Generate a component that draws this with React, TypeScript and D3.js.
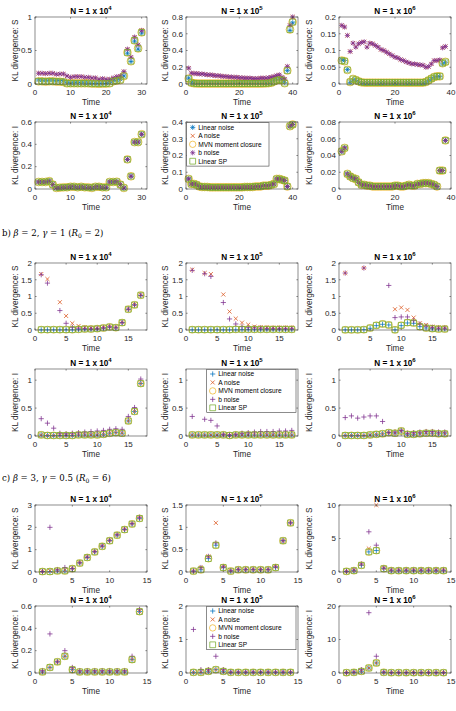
import React from "react";
import * as d3 from "d3";

// ---------- series styling ----------
const BLUE = "#0072BD";
const ORANGE = "#D95319";
const YELLOW = "#EDB120";
const PURPLE = "#7E2F8E";
const GREEN = "#77AC30";

const seriesLabels = ["Linear noise", "A noise", "MVN moment closure", "b noise", "Linear SP"];

// ---------- a) KL divergence values ----------
const aS4_linear = [0.06,0.06,0.055,0.06,0.06,0.05,0.05,0.05,0.02,0.015,0.02,0.02,0.02,0.015,0.015,0.01,0.01,0.005,0.01,0.01,0.02,0.05,0.06,0.07,0.12,0.46,0.335,0.64,0.52,0.76];
const aS4_mvn = [0.04,0.04,0.035,0.04,0.04,0.035,0.035,0.03,0.01,0.01,0.01,0.01,0.01,0.01,0.01,0.005,0.005,0.003,0.005,0.005,0.01,0.04,0.05,0.06,0.12,0.47,0.34,0.65,0.53,0.77];
const aS4_b = [0.16,0.16,0.155,0.16,0.16,0.145,0.15,0.15,0.12,0.1,0.11,0.11,0.11,0.1,0.1,0.09,0.09,0.07,0.08,0.07,0.07,0.09,0.11,0.12,0.185,0.52,0.4,0.7,0.585,0.8];

const aS5_linear = [0.07,0.02,0.012,0.01,0.01,0.01,0.01,0.01,0.01,0.01,0.01,0.01,0.01,0.01,0.01,0.01,0.01,0.01,0.01,0.01,0.01,0.01,0.01,0.01,0.01,0.01,0.01,0.01,0.01,0.012,0.015,0.02,0.04,0.05,0.055,0.05,0.02,0.16,0.64,0.73];
const aS5_mvn = [0.065,0.015,0.008,0.006,0.005,0.005,0.005,0.005,0.005,0.005,0.005,0.005,0.005,0.005,0.005,0.005,0.005,0.005,0.005,0.005,0.005,0.005,0.005,0.005,0.005,0.005,0.005,0.005,0.006,0.008,0.01,0.015,0.03,0.045,0.05,0.045,0.01,0.16,0.65,0.74];
const aS5_b = [0.19,0.13,0.125,0.125,0.12,0.12,0.115,0.11,0.11,0.105,0.1,0.1,0.095,0.09,0.09,0.085,0.085,0.08,0.08,0.075,0.075,0.07,0.07,0.07,0.065,0.065,0.065,0.07,0.07,0.07,0.075,0.08,0.09,0.1,0.11,0.08,0.06,0.21,0.7,0.8];

const aS6_linear = [0.072,0.07,0.043,0.005,0.012,0.01,0.007,0.004,0.003,0.003,0.003,0.003,0.003,0.003,0.003,0.003,0.003,0.003,0.003,0.003,0.003,0.003,0.003,0.003,0.003,0.003,0.003,0.003,0.003,0.003,0.005,0.01,0.015,0.02,0.022,0.022,0.06,0.065];
const aS6_mvn = [0.07,0.068,0.042,0.006,0.015,0.012,0.008,0.005,0.004,0.004,0.004,0.004,0.004,0.004,0.004,0.004,0.004,0.004,0.004,0.004,0.004,0.004,0.004,0.004,0.004,0.004,0.004,0.004,0.004,0.004,0.006,0.011,0.016,0.021,0.023,0.023,0.062,0.066];
const aS6_b = [0.175,0.17,0.145,0.097,0.122,0.11,0.12,0.124,0.126,0.11,0.122,0.12,0.115,0.11,0.103,0.1,0.095,0.09,0.085,0.08,0.078,0.073,0.07,0.066,0.063,0.06,0.06,0.058,0.057,0.056,0.05,0.052,0.06,0.07,0.07,0.072,0.108,0.112];

const aI4_all = [0.063,0.063,0.063,0.07,0.04,0.01,0.012,0.015,0.015,0.02,0.02,0.015,0.02,0.015,0.015,0.01,0.02,0.02,0.015,0.015,0.063,0.063,0.065,0.04,0.01,0.265,0.114,0.42,0.42,0.49];
const aI5_all = [0.06,0.03,0.03,0.025,0.015,0.012,0.012,0.012,0.01,0.01,0.01,0.01,0.01,0.01,0.01,0.01,0.01,0.01,0.01,0.01,0.01,0.012,0.012,0.012,0.012,0.015,0.015,0.015,0.02,0.02,0.02,0.025,0.03,0.06,0.06,0.055,0.05,0.015,0.375,0.385];
const aI6_all = [0.045,0.049,0.018,0.015,0.013,0.012,0.008,0.005,0.005,0.004,0.004,0.003,0.003,0.003,0.003,0.003,0.003,0.003,0.003,0.004,0.004,0.003,0.003,0.004,0.005,0.004,0.004,0.006,0.006,0.007,0.007,0.007,0.006,0.005,0.003,0.022,0.022,0.058];

// ---------- b) KL divergence values (null = off scale) ----------
const bS4_linear = [0.005,0.005,0.005,0.005,0.005,0.005,0.01,0.02,0.02,0.03,0.05,0.08,0.06,0.22,0.62,0.75,1.03];
const bS4_mvn = [0.01,0.01,0.01,0.01,0.01,0.01,0.02,0.03,0.03,0.04,0.06,0.09,0.07,0.22,0.62,0.75,1.04];
const bS4_A = [1.67,1.52,null,0.83,0.42,0.2,0.12,0.08,0.06,0.06,0.08,0.1,0.08,0.23,0.63,0.76,1.05];
const bS4_b = [1.65,1.4,null,0.58,0.2,0.08,0.05,0.05,0.05,0.05,0.07,0.1,0.08,0.22,0.62,0.75,1.04];

const bS5_linear = [0.005,0.005,0.005,0.005,0.005,0.005,0.005,0.005,0.01,0.01,0.01,0.01,0.01,0.01,0.01,0.01,0.01];
const bS5_mvn = [0.01,0.01,0.01,0.01,0.01,0.01,0.01,0.02,0.02,0.02,0.02,0.02,0.02,0.02,0.02,0.02,0.02];
const bS5_A = [1.8,null,1.7,1.67,null,1.06,0.55,0.34,0.22,0.16,0.1,0.08,0.08,0.07,0.07,0.07,0.07];
const bS5_b = [1.78,null,1.68,1.6,null,0.82,0.33,0.18,0.1,0.07,0.06,0.06,0.05,0.05,0.05,0.05,0.05];

const bS6_linear = [0.005,0.005,0.005,0.01,0.05,0.13,0.17,0.15,0.005,0.13,0.21,0.2,0.1,0.06,0.04,0.03,0.03];
const bS6_mvn = [0.005,0.005,0.005,0.01,0.06,0.14,0.18,0.15,0.005,0.14,0.22,0.21,0.1,0.06,0.04,0.03,0.03];
const bS6_A = [1.7,null,null,1.85,null,null,null,null,0.62,0.67,0.6,0.37,0.2,0.15,0.1,0.07,0.07];
const bS6_b = [1.7,null,null,1.85,null,null,null,1.33,0.37,0.39,0.39,0.28,0.18,0.12,0.08,0.06,0.06];

const bI4_rest = [0.02,0.01,0.01,0.01,0.01,0.01,0.02,0.02,0.02,0.02,0.03,0.05,0.06,0.05,0.27,0.44,0.94];
const bI4_b = [0.31,0.23,0.14,0.05,0.04,0.05,0.06,0.07,0.08,0.09,0.1,0.12,0.13,0.12,0.35,0.51,1.02];
const bI5_rest = [0.02,0.02,0.02,0.02,0.02,0.02,0.01,0.02,0.02,0.02,0.02,0.02,0.02,0.02,0.02,0.02,0.02];
const bI5_b = [0.35,null,0.3,0.28,0.18,0.03,0.02,0.03,0.05,0.06,0.07,0.08,0.08,0.08,0.09,0.09,0.1];
const bI6_rest = [0.01,0.01,0.01,0.01,0.02,0.03,0.04,0.06,0.05,0.09,0.03,0.03,0.04,0.05,0.05,0.04,0.04];
const bI6_b = [0.33,0.36,0.32,0.34,0.36,0.36,0.26,0.06,0.07,0.1,0.05,0.06,0.07,0.08,0.08,0.07,0.07];

// ---------- c) KL divergence values ----------
const cS4_linear = [0.02,0.02,0.05,0.05,0.15,0.4,0.65,0.9,1.15,1.4,1.65,1.9,2.15,2.4];
const cS4_A = [0.03,0.05,0.08,0.08,0.17,0.42,0.67,0.92,1.17,1.42,1.67,1.92,2.17,2.42];
const cS4_b = [0.02,2.0,0.1,0.2,0.15,0.42,0.67,0.92,1.17,1.42,1.67,1.92,2.17,2.45];
const cS5_linear = [0.02,0.05,0.3,0.6,0.1,0.02,0.05,0.05,0.05,0.05,0.05,0.1,0.7,1.1];
const cS5_A = [0.02,0.1,0.35,1.1,0.12,0.03,0.06,0.06,0.06,0.06,0.06,0.12,0.7,1.1];
const cS5_b = [0.02,0.1,0.35,0.65,0.12,0.03,0.06,0.06,0.06,0.06,0.06,0.12,0.7,1.1];
const cS6_linear = [0.1,0.2,1.0,3.0,3.2,0.5,0.2,0.2,0.2,0.2,0.2,0.2,0.2,0.2];
const cS6_A = [0.1,0.3,1.2,3.5,10,0.6,0.3,0.3,0.3,0.3,0.3,0.3,0.3,0.3];
const cS6_b = [0.1,0.3,1.2,6,4,0.6,0.3,0.3,0.3,0.3,0.3,0.3,0.3,0.3];
const cI4_rest = [0.01,0.05,0.1,0.15,0.03,0.01,0.01,0.01,0.01,0.01,0.01,0.01,0.12,0.55];
const cI4_b = [0.02,0.35,0.1,0.2,0.05,0.02,0.02,0.02,0.02,0.02,0.02,0.02,0.15,0.57];
const cI5_rest = [0.02,0.02,0.05,0.1,0.05,0.02,0.02,0.02,0.02,0.02,0.02,0.02,0.02,0.02];
const cI5_b = [1.3,0.1,0.1,0.5,0.1,0.03,0.03,0.03,0.03,0.03,0.03,0.03,0.03,0.03];
const cI6_rest = [0.1,0.2,0.5,1.5,3,0.2,0.1,0.1,0.1,0.1,0.1,0.1,0.1,0.1];
const cI6_b = [0.1,0.3,1,18,5,0.3,0.1,0.1,0.1,0.1,0.1,0.1,0.1,0.1];

// ---------- axes ----------
const exps = ["4", "5", "6"];

type Marker = "plus" | "x" | "star" | "circle" | "square";
type Vals = (number | null)[];

interface PanelDef {
  row: number;
  col: number;
  yLabel: string;
  xDomain: [number, number];
  xTicks: number[];
  yDomain: [number, number];
  yTicks: number[];
  data: Vals[]; // order: linear, A, MVN, b, SP
  starMarkers: boolean;
  legend?: boolean;
}

const panels: PanelDef[] = [
  { row: 0, col: 0, yLabel: "KL divergence: S", xDomain: [0, 31.5], xTicks: [0, 10, 20, 30], yDomain: [0, 1], yTicks: [0, 0.5, 1], data: [aS4_linear, aS4_b, aS4_mvn, aS4_b, aS4_mvn], starMarkers: true },
  { row: 0, col: 1, yLabel: "KL divergence: S", xDomain: [0, 42], xTicks: [0, 20, 40], yDomain: [0, 0.8], yTicks: [0, 0.2, 0.4, 0.6, 0.8], data: [aS5_linear, aS5_b, aS5_mvn, aS5_b, aS5_mvn], starMarkers: true },
  { row: 0, col: 2, yLabel: "KL divergence: S", xDomain: [0, 40], xTicks: [0, 20, 40], yDomain: [0, 0.2], yTicks: [0, 0.05, 0.1, 0.15, 0.2], data: [aS6_linear, aS6_b, aS6_mvn, aS6_b, aS6_mvn], starMarkers: true },
  { row: 1, col: 0, yLabel: "KL divergence: I", xDomain: [0, 31.5], xTicks: [0, 10, 20, 30], yDomain: [0, 0.6], yTicks: [0, 0.2, 0.4, 0.6], data: [aI4_all, aI4_all, aI4_all, aI4_all, aI4_all], starMarkers: true },
  { row: 1, col: 1, yLabel: "KL divergence: I", xDomain: [0, 42], xTicks: [0, 20, 40], yDomain: [0, 0.4], yTicks: [0, 0.1, 0.2, 0.3, 0.4], data: [aI5_all, aI5_all, aI5_all, aI5_all, aI5_all], starMarkers: true, legend: true },
  { row: 1, col: 2, yLabel: "KL divergence: I", xDomain: [0, 40], xTicks: [0, 20, 40], yDomain: [0, 0.08], yTicks: [0, 0.02, 0.04, 0.06, 0.08], data: [aI6_all, aI6_all, aI6_all, aI6_all, aI6_all], starMarkers: true },

  { row: 2, col: 0, yLabel: "KL divergence: S", xDomain: [0, 18], xTicks: [0, 5, 10, 15], yDomain: [0, 2], yTicks: [0, 0.5, 1, 1.5, 2], data: [bS4_linear, bS4_A, bS4_mvn, bS4_b, bS4_mvn], starMarkers: false },
  { row: 2, col: 1, yLabel: "KL divergence: S", xDomain: [0, 18], xTicks: [0, 5, 10, 15], yDomain: [0, 2], yTicks: [0, 0.5, 1, 1.5, 2], data: [bS5_linear, bS5_A, bS5_mvn, bS5_b, bS5_mvn], starMarkers: false },
  { row: 2, col: 2, yLabel: "KL divergence: S", xDomain: [0, 18], xTicks: [0, 5, 10, 15], yDomain: [0, 2], yTicks: [0, 0.5, 1, 1.5, 2], data: [bS6_linear, bS6_A, bS6_mvn, bS6_b, bS6_mvn], starMarkers: false },
  { row: 3, col: 0, yLabel: "KL divergence: I", xDomain: [0, 18], xTicks: [0, 5, 10, 15], yDomain: [0, 1.2], yTicks: [0, 0.5, 1], data: [bI4_rest, bI4_rest, bI4_rest, bI4_b, bI4_rest], starMarkers: false },
  { row: 3, col: 1, yLabel: "KL divergence: I", xDomain: [0, 18], xTicks: [0, 5, 10, 15], yDomain: [0, 1.2], yTicks: [0, 0.5, 1], data: [bI5_rest, bI5_rest, bI5_rest, bI5_b, bI5_rest], starMarkers: false, legend: true },
  { row: 3, col: 2, yLabel: "KL divergence: I", xDomain: [0, 18], xTicks: [0, 5, 10, 15], yDomain: [0, 1.2], yTicks: [0, 0.5, 1], data: [bI6_rest, bI6_rest, bI6_rest, bI6_b, bI6_rest], starMarkers: false },

  { row: 4, col: 0, yLabel: "KL divergence: S", xDomain: [0, 15], xTicks: [0, 5, 10, 15], yDomain: [0, 3], yTicks: [0, 1, 2, 3], data: [cS4_linear, cS4_A, cS4_linear, cS4_b, cS4_linear], starMarkers: false },
  { row: 4, col: 1, yLabel: "KL divergence: S", xDomain: [0, 15], xTicks: [0, 5, 10, 15], yDomain: [0, 1.5], yTicks: [0, 0.5, 1, 1.5], data: [cS5_linear, cS5_A, cS5_linear, cS5_b, cS5_linear], starMarkers: false },
  { row: 4, col: 2, yLabel: "KL divergence: S", xDomain: [0, 15], xTicks: [0, 5, 10, 15], yDomain: [0, 10], yTicks: [0, 5, 10], data: [cS6_linear, cS6_A, cS6_linear, cS6_b, cS6_linear], starMarkers: false },
  { row: 5, col: 0, yLabel: "KL divergence: I", xDomain: [0, 15], xTicks: [0, 5, 10, 15], yDomain: [0, 0.6], yTicks: [0, 0.2, 0.4, 0.6], data: [cI4_rest, cI4_rest, cI4_rest, cI4_b, cI4_rest], starMarkers: false },
  { row: 5, col: 1, yLabel: "KL divergence: I", xDomain: [0, 15], xTicks: [0, 5, 10, 15], yDomain: [0, 2], yTicks: [0, 1, 2], data: [cI5_rest, cI5_rest, cI5_rest, cI5_b, cI5_rest], starMarkers: false, legend: true },
  { row: 5, col: 2, yLabel: "KL divergence: I", xDomain: [0, 15], xTicks: [0, 5, 10, 15], yDomain: [0, 20], yTicks: [0, 10, 20], data: [cI6_rest, cI6_rest, cI6_rest, cI6_b, cI6_rest], starMarkers: false },
];

// ---------- layout ----------
const COL_LEFT = [35, 186, 339];
const YLABEL_X = [15, 165, 309];
const PLOT_W = 112;
const PLOT_H = 67;
const ROW_TOP = [17, 122, 263, 369, 505, 606];
const AXIS = "#404040";
const FONT = "'Liberation Sans', Arial, Helvetica, sans-serif";

function markerPath(m: Marker, x: number, y: number): string {
  const s = 2.6;
  if (m === "plus") return `M${x - s},${y}H${x + s}M${x},${y - s}V${y + s}`;
  if (m === "x") {
    const d = s * 0.78;
    return `M${x - d},${y - d}L${x + d},${y + d}M${x - d},${y + d}L${x + d},${y - d}`;
  }
  if (m === "star") {
    const d = s * 0.72;
    return `M${x - s},${y}H${x + s}M${x},${y - s}V${y + s}M${x - d},${y - d}L${x + d},${y + d}M${x - d},${y + d}L${x + d},${y - d}`;
  }
  const q = 2.9;
  return `M${x - q},${y - q}h${2 * q}v${2 * q}h${-2 * q}Z`;
}

function seriesStyles(star: boolean): { color: string; marker: Marker }[] {
  return [
    { color: BLUE, marker: star ? "star" : "plus" },
    { color: ORANGE, marker: "x" },
    { color: YELLOW, marker: "circle" },
    { color: PURPLE, marker: star ? "star" : "plus" },
    { color: GREEN, marker: "square" },
  ];
}

function MarkerGlyph({ m, color, x, y, r }: { m: Marker; color: string; x: number; y: number; r: number }) {
  if (m === "circle") return <circle cx={x} cy={y} r={r} fill="none" stroke={color} strokeWidth={0.7} />;
  return <path d={markerPath(m, x, y)} fill="none" stroke={color} strokeWidth={0.75} />;
}

function Panel({ p }: { p: PanelDef }) {
  const left = COL_LEFT[p.col];
  const top = ROW_TOP[p.row];
  const x = d3.scaleLinear().domain(p.xDomain).range([left, left + PLOT_W]);
  const y = d3.scaleLinear().domain(p.yDomain).range([top + PLOT_H, top]);
  const styles = seriesStyles(p.starMarkers);
  const cr = p.starMarkers ? 3.9 : 3.5;
  const bottom = top + PLOT_H;
  const right = left + PLOT_W;
  const tl = 1.6;

  return (
    <g>
      <rect x={left} y={top} width={PLOT_W} height={PLOT_H} fill="#fff" />
      {p.data.map((vals, si) => (
        <g key={si}>
          {vals.map((v, i) => {
            if (v === null || v > p.yDomain[1] || v < p.yDomain[0]) return null;
            return <MarkerGlyph key={i} m={styles[si].marker} color={styles[si].color} x={x(i + 1)} y={y(v)} r={cr} />;
          })}
        </g>
      ))}
      {/* box */}
      <rect x={left} y={top} width={PLOT_W} height={PLOT_H} fill="none" stroke={AXIS} strokeWidth={0.6} />
      {p.xTicks.map((t) => (
        <g key={"x" + t}>
          <line x1={x(t)} x2={x(t)} y1={bottom} y2={bottom - tl} stroke={AXIS} strokeWidth={0.6} />
          <line x1={x(t)} x2={x(t)} y1={top} y2={top + tl} stroke={AXIS} strokeWidth={0.6} />
          <text x={x(t)} y={bottom + 10.5} textAnchor="middle" fontSize={8} fill="#262626" fontFamily={FONT}>{String(t)}</text>
        </g>
      ))}
      {p.yTicks.map((t) => (
        <g key={"y" + t}>
          <line x1={left} x2={left + tl} y1={y(t)} y2={y(t)} stroke={AXIS} strokeWidth={0.6} />
          <line x1={right} x2={right - tl} y1={y(t)} y2={y(t)} stroke={AXIS} strokeWidth={0.6} />
          <text x={left - 3} y={y(t) + 2.8} textAnchor="end" fontSize={8} fill="#262626" fontFamily={FONT}>{String(t)}</text>
        </g>
      ))}
      <text x={(left + right) / 2} y={bottom + 20.5} textAnchor="middle" fontSize={8.2} fill="#262626" fontFamily={FONT}>Time</text>
      <text
        transform={`translate(${YLABEL_X[p.col]},${top + PLOT_H / 2}) rotate(-90)`}
        textAnchor="middle"
        dominantBaseline="central"
        fontSize={8.2}
        fill="#262626"
        fontFamily={FONT}
      >
        {p.yLabel}
      </text>
      <text x={(left + right) / 2} y={top - 3.5} textAnchor="middle" fontSize={8.2} fontWeight="bold" fill="#000" fontFamily={FONT}>
        N = 1 x 10
        <tspan dy={-3.5} fontSize={6}>{exps[p.col]}</tspan>
      </text>
      {p.legend && <Legend p={p} />}
    </g>
  );
}

function Legend({ p }: { p: PanelDef }) {
  const left = COL_LEFT[p.col];
  const top = ROW_TOP[p.row];
  const star = p.starMarkers;
  const styles = seriesStyles(star);
  const bx = star ? left + 0.7 : left + 20.7;
  const by = star ? top + 0.7 : top + 0.3;
  const bw = star ? 82.3 : 89.3;
  const bh = 43.4;
  const step = 8.45;
  return (
    <g>
      <rect x={bx} y={by} width={bw} height={bh} fill="#fff" stroke={AXIS} strokeWidth={0.6} />
      {seriesLabels.map((lab, i) => {
        const cy = by + 4.7 + i * step;
        return (
          <g key={lab}>
            <MarkerGlyph m={styles[i].marker} color={styles[i].color} x={bx + 6} y={cy} r={3.2} />
            <text x={bx + 11.5} y={cy + 2.4} fontSize={6.6} fill="#000" fontFamily={FONT}>{lab}</text>
          </g>
        );
      })}
    </g>
  );
}

function SectionLabel({ y, letter, beta, gamma, r0 }: { y: number; letter: string; beta: string; gamma: string; r0: string }) {
  const serif = "'DejaVu Serif', 'Liberation Serif', serif";
  return (
    <text x={2} y={y} fontSize={8.6} fill="#000" fontFamily={serif}>
      {letter}){" "}
      <tspan fontStyle="italic">β</tspan> = {beta}, <tspan fontStyle="italic">γ</tspan> = {gamma} (<tspan fontStyle="italic">R</tspan>
      <tspan dy={2} fontSize={6}>0</tspan>
      <tspan dy={-2}> = {r0})</tspan>
    </text>
  );
}

export default function App() {
  return (
    <svg width={456} height={711} style={{ position: "absolute", left: 0, top: 0, background: "#fff" }}>
      <rect width={456} height={711} fill="#fff" />
      {panels.map((p, i) => (
        <Panel key={i} p={p} />
      ))}
      <SectionLabel y={236} letter="b" beta="2" gamma="1" r0="2" />
      <SectionLabel y={481} letter="c" beta="3" gamma="0.5" r0="6" />
    </svg>
  );
}
